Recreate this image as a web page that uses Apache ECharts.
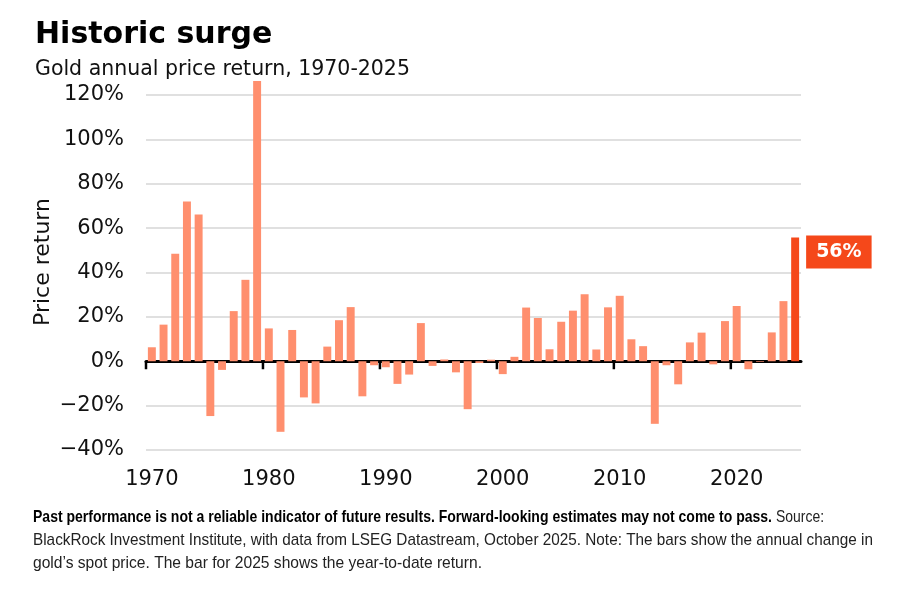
<!DOCTYPE html>
<html>
<head>
<meta charset="utf-8">
<script src="https://cdn.jsdelivr.net/npm/echarts@6/dist/echarts.min.js"></script>
<style>
html,body{margin:0;padding:0;background:#fff;}
#chart{width:898px;height:590px;}
</style>
</head>
<body>
<div id="chart"></div>
<script>
const years = [];
for (let y = 1970; y <= 2025; y++) years.push(String(y));
const returns = [
  6.3, 16.5, 48.5, 72.0, 66.1, -24.7, -3.9, 22.6, 36.7, 126.3,
  14.8, -31.8, 14.1, -16.3, -19.0, 6.6, 18.5, 24.4, -15.8, -1.8,
  -2.7, -10.2, -6.0, 17.2, -2.1, 0.8, -5.0, -21.6, -0.8, 0.7,
  -5.8, 2.0, 24.2, 19.5, 5.4, 17.8, 22.8, 30.2, 5.3, 24.3,
  29.5, 9.9, 6.8, -28.2, -1.8, -10.4, 8.5, 12.9, -1.4, 18.1,
  24.9, -3.6, -0.3, 13.0, 27.1, 55.8
];
const tickYears = ['1970', '1980', '1990', '2000', '2010', '2020'];
const yTicks = [-40, 120, 20];
const highlightLabel = '56%';
const title = 'Historic surge';
const subtitle = 'Gold annual price return, 1970-2025';
const yName = 'Price return';
const footBold = 'Past performance is not a reliable indicator of future results. Forward-looking estimates may not come to pass.';
const footSource = 'Source:';
const footLine2 = 'BlackRock Investment Institute, with data from LSEG Datastream, October 2025. Note: The bars show the annual change in';
const footLine3 = 'gold\u2019s spot price. The bar for 2025 shows the year-to-date return.';

const base = '#FF8F6E', hi = '#F5481A';
const mainFont = '"DejaVu Sans", sans-serif';
const footFamily = '"Liberation Sans", Arial, sans-serif';

const data = returns.map((v, i) => {
  if (i === returns.length - 1) {
    return {
      value: v,
      itemStyle: { color: hi },
      label: {
        show: true, formatter: highlightLabel,
        position: ['100%', 0], offset: [7, -2],
        align: 'left', verticalAlign: 'top',
        backgroundColor: hi, color: '#fff',
        fontFamily: mainFont, fontWeight: 700, fontSize: 19,
        lineHeight: 20, padding: [7, 10, 6, 10]
      }
    };
  }
  return v;
});

// measure footer texts to fit their widths in the reference
const cv = document.createElement('canvas').getContext('2d');
function fit(text, font, target) {
  cv.font = font;
  return target / cv.measureText(text).width;
}
const fBold = '700 17px ' + footFamily;
const fReg = '400 17px ' + footFamily;
const footItems = [
  { text: footBold, font: fBold, x: 33, y: 517, w: 739, fill: '#000' },
  { text: footSource, font: fReg, x: 776, y: 517, w: 48, fill: '#222' },
  { text: footLine2, font: fReg, x: 33, y: 540, w: 840, fill: '#222' },
  { text: footLine3, font: fReg, x: 33, y: 563, w: 449, fill: '#222' }
];

const chart = echarts.init(document.getElementById('chart'), null, { renderer: 'canvas' });
chart.setOption({
  animation: false,
  grid: { left: 146, right: 97, top: 95, bottom: 140, containLabel: false },
  title: [
    { text: title, left: 35, top: 20, padding: 0,
      textStyle: { fontFamily: mainFont, fontWeight: 700, fontSize: 30, color: '#000' } },
    { text: subtitle, left: 35, top: 59, padding: 0,
      textStyle: { fontFamily: mainFont, fontWeight: 400, fontSize: 20.5, color: '#111' } }
  ],
  xAxis: {
    type: 'category', data: years,
    axisLine: { lineStyle: { color: '#000', width: 3 } },
    axisTick: { show: false },
    axisLabel: { interval: 9, margin: 19, fontFamily: mainFont, fontSize: 21, color: '#111' }
  },
  yAxis: {
    type: 'value', min: yTicks[0], max: yTicks[1], interval: yTicks[2],
    axisLine: { show: false }, axisTick: { show: false },
    splitLine: { lineStyle: { color: '#d6d6d6', width: 1.5 } },
    axisLabel: { margin: 22, fontFamily: mainFont, fontSize: 21, color: '#111',
      formatter: v => (v < 0 ? '\u2212' + Math.abs(v) : v) + '%' }
  },
  series: [
    {
      type: 'bar', data: data, barCategoryGap: '32%', clip: false,
      itemStyle: { color: base }
    },
    {
      type: 'custom', silent: true, z: 5,
      data: tickYears.map(y => [y, 0]),
      renderItem: function (params, api) {
        const p = api.coord([api.value(0), 0]);
        const w = api.size([1, 0])[0];
        const x = p[0] - w / 2;
        return {
          type: 'line',
          shape: { x1: x, y1: p[1], x2: x, y2: p[1] + 8 },
          style: { stroke: '#000', lineWidth: 2.5 }
        };
      }
    }
  ],
  graphic: [
    { type: 'text', x: 43, y: 262, rotation: Math.PI / 2,
      style: { text: yName, font: '400 22px ' + mainFont, fill: '#111', align: 'center', verticalAlign: 'middle' } }
  ].concat(footItems.map(it => ({
    type: 'text', x: it.x, y: it.y,
    scaleX: fit(it.text, it.font, it.w),
    style: { text: it.text, font: it.font, fill: it.fill, verticalAlign: 'middle', align: 'left' }
  })))
});
</script>
</body>
</html>
